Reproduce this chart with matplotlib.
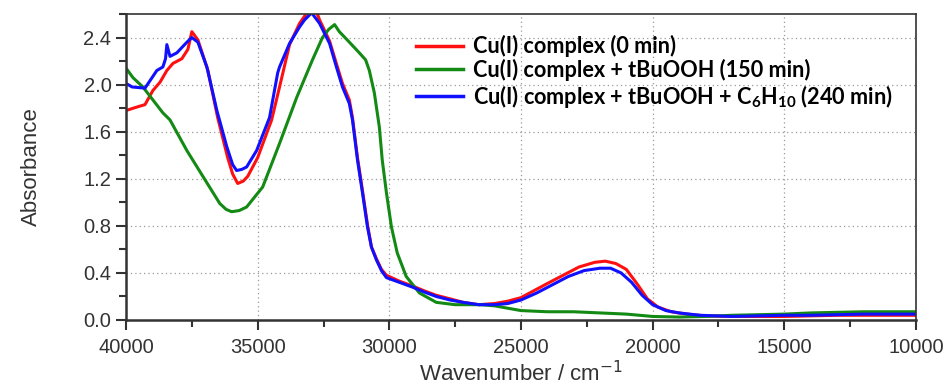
import matplotlib.pyplot as plt
from matplotlib.ticker import MultipleLocator

# Cu(I) complex (0 min)
red_w = [40000, 39580, 39280, 38980, 38710, 38450, 38220, 37880, 37650, 37500, 37270,
         36890, 36520, 36140, 35950, 35760, 35550, 35380, 35000, 34470, 34170, 33790,
         33410, 33100, 32800, 32650, 32270, 32000, 31780, 31520, 31400, 31210, 31020,
         30830, 30680, 30490, 30300, 30110, 29620, 29130, 28700, 28220, 27700, 27200,
         26600, 26000, 25500, 25000, 24500, 24000, 23400, 22800, 22200, 21800, 21400,
         21000, 20600, 20200, 19800, 19300, 18700, 18000, 17000, 16000, 15000, 14000,
         13000, 12000, 11000, 10000]
red_a = [1.78, 1.81, 1.83, 1.95, 2.02, 2.12, 2.18, 2.22, 2.30, 2.45, 2.38,
         2.12, 1.72, 1.38, 1.24, 1.16, 1.18, 1.22, 1.38, 1.70, 1.98, 2.34,
         2.52, 2.62, 2.64, 2.55, 2.37, 2.17, 2.01, 1.87, 1.72, 1.38, 1.10,
         0.81, 0.62, 0.52, 0.43, 0.38, 0.33, 0.29, 0.25, 0.21, 0.18, 0.15,
         0.13, 0.14, 0.16, 0.19, 0.25, 0.31, 0.38, 0.45, 0.49, 0.50, 0.48,
         0.43, 0.31, 0.18, 0.11, 0.07, 0.05, 0.035, 0.03, 0.03, 0.03, 0.035,
         0.04, 0.04, 0.04, 0.04]

# Cu(I) complex + tBuOOH (150 min)
green_w = [40000, 39740, 39360, 38980, 38600, 38330, 37690, 37080, 36440, 36200, 35990,
           35700, 35420, 34810, 34170, 33520, 32920, 32540, 32300, 32080, 31900, 31600,
           31140, 30900, 30760, 30570, 30380, 30270, 30110, 29920, 29700, 29360, 28860,
           28220, 27500, 26500, 26000, 25500, 25000, 24000, 23000, 22000, 21000, 20000,
           19000, 18000, 17000, 16000, 15000, 14000, 13000, 12000, 11000, 10000]
green_a = [2.14, 2.06, 1.98, 1.87, 1.76, 1.70, 1.44, 1.22, 0.99, 0.94, 0.92,
           0.93, 0.96, 1.13, 1.50, 1.89, 2.21, 2.40, 2.47, 2.51, 2.45, 2.38,
           2.27, 2.21, 2.12, 1.93, 1.64, 1.36, 1.08, 0.79, 0.57, 0.37, 0.23,
           0.15, 0.13, 0.13, 0.12, 0.10, 0.08, 0.07, 0.07, 0.06, 0.05, 0.03,
           0.025, 0.03, 0.04, 0.045, 0.05, 0.06, 0.065, 0.07, 0.07, 0.07]

# Cu(I) complex + tBuOOH + C6H10 (240 min)
blue_w = [40000, 39770, 39280, 38830, 38600, 38500, 38450, 38330, 38070, 37690, 37500,
          37270, 36930, 36550, 36170, 35950, 35800, 35600, 35420, 35040, 34550, 34240,
          34170, 33790, 33410, 33220, 32950, 32650, 32270, 32010, 31780, 31520, 31400,
          31210, 31020, 30830, 30680, 30490, 30300, 30110, 29620, 29130, 28700, 28220,
          27700, 27200, 26600, 26000, 25500, 25000, 24400, 23800, 23200, 22600, 22000,
          21600, 21200, 20800, 20400, 20000, 19500, 19000, 18200, 17000, 16000, 15000,
          14000, 13000, 12000, 11000, 10000]
blue_a = [2.01, 1.98, 1.97, 2.12, 2.15, 2.22, 2.34, 2.24, 2.27, 2.36, 2.40,
          2.36, 2.15, 1.78, 1.47, 1.32, 1.27, 1.28, 1.30, 1.44, 1.72, 2.10,
          2.15, 2.35, 2.49, 2.55, 2.61, 2.52, 2.35, 2.15, 1.98, 1.84, 1.70,
          1.36, 1.08, 0.79, 0.62, 0.51, 0.42, 0.36, 0.32, 0.28, 0.24, 0.20,
          0.17, 0.15, 0.13, 0.13, 0.14, 0.17, 0.23, 0.30, 0.37, 0.42, 0.44,
          0.44, 0.40, 0.32, 0.21, 0.13, 0.08, 0.06, 0.04, 0.03, 0.035, 0.04,
          0.04, 0.045, 0.05, 0.05, 0.05]

labels = ['Cu(I) complex (0 min)',
          'Cu(I) complex + tBuOOH (150 min)',
          'Cu(I) complex + tBuOOH + C$_\\mathregular{6}$H$_\\mathregular{10}$ (240 min)']

plt.rcParams['font.family'] = ['Liberation Sans', 'DejaVu Sans']

fig = plt.figure(figsize=(9.49, 3.89), dpi=100)
ax = fig.add_axes([0.1328, 0.1774, 0.8324, 0.7866])

ax.plot(red_w, red_a, color='#ff1010', lw=2.2, label=labels[0])
ax.plot(green_w, green_a, color='#138a13', lw=2.2, label=labels[1])
ax.plot(blue_w, blue_a, color='#1010ff', lw=2.2, label=labels[2])

ax.set_xlim(40000, 10000)
ax.set_ylim(0, 2.6)
ax.xaxis.set_major_locator(MultipleLocator(5000))
ax.xaxis.set_minor_locator(MultipleLocator(2500))
ax.yaxis.set_major_locator(MultipleLocator(0.4))
ax.yaxis.set_minor_locator(MultipleLocator(0.2))
ax.yaxis.set_major_formatter(plt.FormatStrFormatter('%.1f'))

ax.grid(True, which='major', color='#999999', linestyle=(0, (1, 2.5)), lw=0.9)
ax.tick_params(which='major', direction='out', length=7, width=1.5,
               labelsize=14.5, labelcolor='#333333', color='#333333')
ax.tick_params(axis='x', which='major', pad=6)
ax.tick_params(which='minor', direction='out', length=5, width=1.5, color='#333333')
for side in ['left', 'bottom']:
    ax.spines[side].set_linewidth(1.8)
    ax.spines[side].set_color('#333333')
for side in ['top', 'right']:
    ax.spines[side].set_linewidth(1.2)
    ax.spines[side].set_color('#333333')

ax.set_xlabel('Wavenumber / cm$^{-1}$', fontsize=16, color='#333333', labelpad=3)
ax.set_ylabel('Absorbance', fontsize=16, color='#333333', labelpad=30)

leg = ax.legend(loc='upper left', bbox_to_anchor=(0.342, 0.995), frameon=False,
                handlelength=2.2, handletextpad=0.45, labelspacing=0.08,
                prop={'family': 'Lato', 'weight': 'bold', 'size': 15.6})
for line in leg.get_lines():
    line.set_linewidth(2.5)

fig.savefig('out.png', dpi=100)
